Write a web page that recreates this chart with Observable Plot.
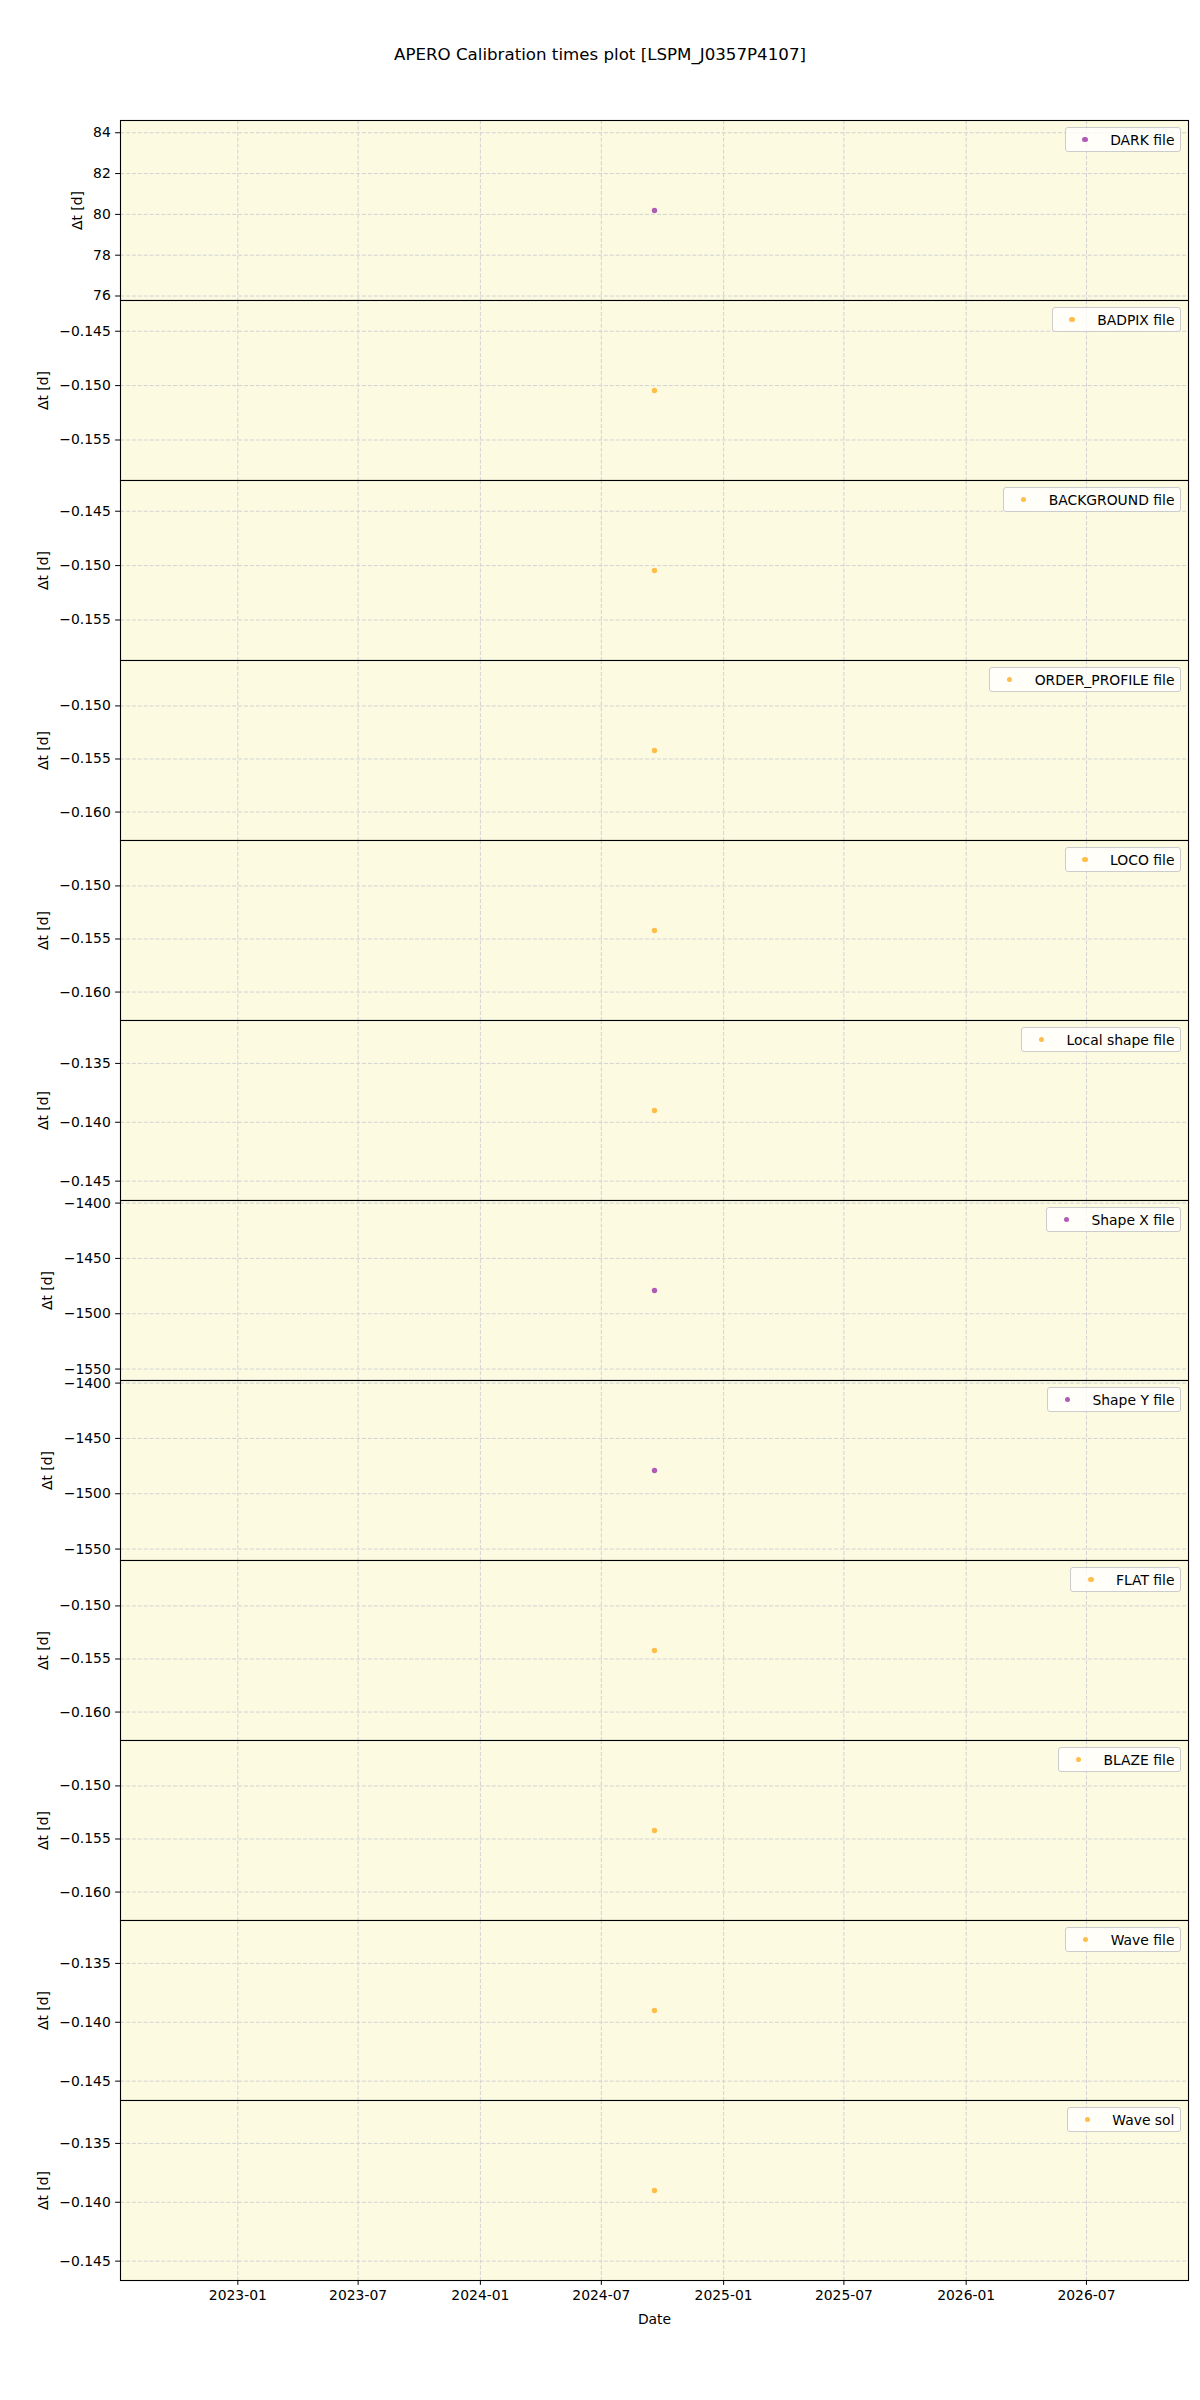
<!DOCTYPE html>
<html>
<head>
<meta charset="utf-8">
<script src="https://cdn.jsdelivr.net/npm/d3@7"></script>
<script src="https://cdn.jsdelivr.net/npm/@observablehq/plot@0.6"></script>
<style>
  body { margin: 0; background: #ffffff; font-family: "DejaVu Sans", sans-serif; }
  #page { position: relative; width: 1200px; height: 2400px; }
  #title { position: absolute; left: 0; width: 1200px; top: 46.9px; text-align: center;
           font-size: 16.67px; line-height: 16.67px; color: #000; }
  #panels { position: absolute; left: 0; top: 120px; width: 1200px; }
  .panel { position: relative; width: 1200px; }
  .legend { position: absolute; top: 7px; right: 19px; height: 25px; box-sizing: border-box;
            border: 1px solid #cccccc; border-radius: 3px; background: rgba(255,255,255,0.8);
            font-size: 13.9px; color: #000; display: flex; align-items: center; padding: 0 5.56px; }
  .legend .sw { width: 27.8px; display: flex; justify-content: center; }
  .legend .sw i { width: 5.4px; height: 5.4px; border-radius: 50%; display: block; }
  .legend .lab { margin-left: 11.1px; white-space: nowrap; }
</style>
</head>
<body>
<div id="page">
  <div id="title">APERO Calibration times plot [LSPM_J0357P4107]</div>
  <div id="panels"></div>
</div>
<script>
// ---- data ----
const panelNames = ["DARK file", "BADPIX file", "BACKGROUND file", "ORDER_PROFILE file", "LOCO file",
  "Local shape file", "Shape X file", "Shape Y file", "FLAT file", "BLAZE file", "Wave file", "Wave sol"];
const obsDates = ["2024-09-19", "2024-09-19", "2024-09-19", "2024-09-19", "2024-09-19", "2024-09-19",
  "2024-09-19", "2024-09-19", "2024-09-19", "2024-09-19", "2024-09-19", "2024-09-19"];
const deltaT = [80.19, -0.15045, -0.15045, -0.1542, -0.1542, -0.1390,
  -1479, -1479, -0.1542, -0.1542, -0.1390, -0.1390];
const dotColors = ["#b05cb5", "#ffbd4a", "#ffbd4a", "#ffbd4a", "#ffbd4a", "#ffbd4a",
  "#b05cb5", "#b05cb5", "#ffbd4a", "#ffbd4a", "#ffbd4a", "#ffbd4a"];
const yTickValues = [
  [76, 78, 80, 82, 84],
  [-0.155, -0.150, -0.145],
  [-0.155, -0.150, -0.145],
  [-0.160, -0.155, -0.150],
  [-0.160, -0.155, -0.150],
  [-0.145, -0.140, -0.135],
  [-1550, -1500, -1450, -1400],
  [-1550, -1500, -1450, -1400],
  [-0.160, -0.155, -0.150],
  [-0.160, -0.155, -0.150],
  [-0.145, -0.140, -0.135],
  [-0.145, -0.140, -0.135]
];
const yTickFormats = ["d", ".3f", ".3f", ".3f", ".3f", ".3f", "d", "d", ".3f", ".3f", ".3f", ".3f"];
const xTickDates = ["2023-01-01", "2023-07-01", "2024-01-01", "2024-07-01",
  "2025-01-01", "2025-07-01", "2026-01-01", "2026-07-01"];

// ---- styling ----
const bg = "#fcfbe2";
const gridStyle = {stroke: "#d2d2d2", strokeOpacity: 1, strokeWidth: 1, strokeDasharray: "4.1,1.8"};
const DAY = 864e5;
const center = new Date(obsDates[0]);
const xDomain = [new Date(+center - 803.55 * DAY), new Date(+center + 803.55 * DAY)];
const xTicks = xTickDates.map(d => new Date(d));

const ctx = document.createElement("canvas").getContext("2d");
ctx.font = "13.9px 'DejaVu Sans'";

const root = document.getElementById("panels");
panelNames.forEach((name, i) => {
  const v = deltaT[i];
  const half = Math.abs(v) * 0.055;
  const fmt = d3.format(yTickFormats[i]);
  const w = Math.max(...yTickValues[i].map(t => ctx.measureText(fmt(t)).width));
  const last = i === panelNames.length - 1;
  const data = [{date: new Date(obsDates[i]), dt: v}];
  const marks = [
    Plot.frame({fill: bg, stroke: null}),
    Plot.gridX(xTicks, gridStyle),
    Plot.gridY(yTickValues[i], gridStyle),
    Plot.axisY(yTickValues[i], {tickFormat: fmt, tickSize: 4.86, tickPadding: 4.86,
      label: "Δt [d]", labelAnchor: "center", labelOffset: 31 + w, labelArrow: "none"}),
    Plot.dot(data, {x: "date", y: "dt", r: 2.7, fill: dotColors[i], stroke: null}),
    Plot.frame({stroke: "#000", strokeWidth: 1.1})
  ];
  if (last) {
    marks.push(Plot.axisX(xTicks, {tickFormat: d3.utcFormat("%Y-%m"), tickSize: 4.86, tickPadding: 4.86,
      label: "Date", labelAnchor: "center", labelOffset: 43.5, labelArrow: "none"}));
  }
  const svg = Plot.plot({
    width: 1200, height: last ? 240 : 180,
    marginLeft: 120, marginRight: 12, marginTop: 0, marginBottom: last ? 60 : 0,
    style: {fontFamily: "'DejaVu Sans'", fontSize: "13.9px", color: "#000", background: "transparent", overflow: "visible"},
    x: {type: "utc", domain: xDomain, axis: last ? undefined : null},
    y: {domain: [v - half, v + half]},
    marks
  });
  const wrap = document.createElement("div");
  wrap.className = "panel";
  wrap.appendChild(svg);
  const leg = document.createElement("div");
  leg.className = "legend";
  const sw = document.createElement("span");
  sw.className = "sw";
  const dot = document.createElement("i");
  dot.style.background = dotColors[i];
  sw.appendChild(dot);
  const lab = document.createElement("span");
  lab.className = "lab";
  lab.textContent = name;
  leg.appendChild(sw);
  leg.appendChild(lab);
  wrap.appendChild(leg);
  root.appendChild(wrap);
});
</script>
</body>
</html>
